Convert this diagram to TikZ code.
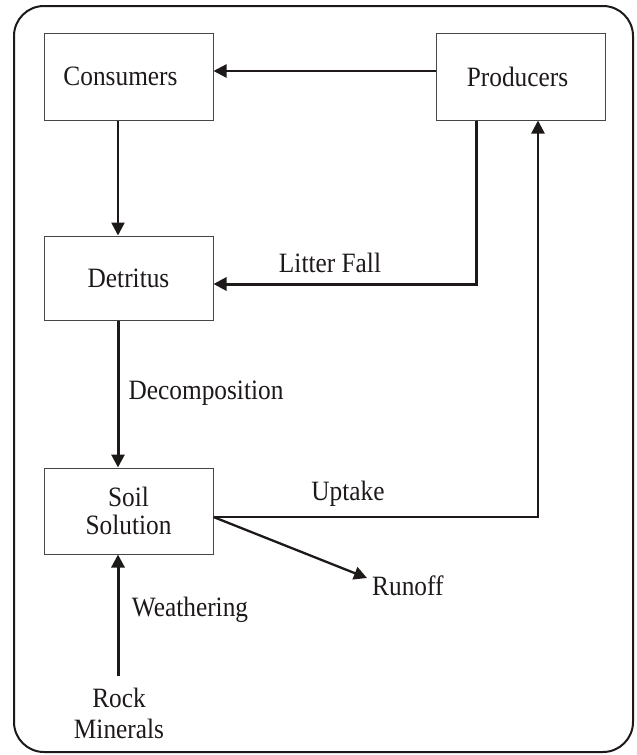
\documentclass[tikz,border=0pt]{standalone}
\usepackage{fontspec}
\setmainfont[FakeStretch=0.905]{Liberation Serif}
\usepackage{xcolor}
\usetikzlibrary{arrows.meta, positioning, calc}
\definecolor{BoxGray}{RGB}{70,70,70}
\definecolor{LineDark}{RGB}{30,25,25}
\tikzset{
  >=latex,
  % Riquadri dei compartimenti
  pool/.style={draw=BoxGray,line width=1pt,minimum width=169pt,inner sep=1pt,
    font=\fontsize{28}{28}\selectfont,align=center,text=LineDark},
  % Testi dei flussi
  flow txt/.style={font=\fontsize{28}{28}\selectfont,align=center,text=LineDark,inner sep=1pt},
  % Connessioni
  connect arrow/.style={-{Triangle[length=13pt,width=13pt]},line width=2.3pt,LineDark},
  connect thick/.style={connect arrow,line width=3pt}
}
\begin{document}
\begin{tikzpicture}[x=1pt,y=-1pt]
    \useasboundingbox (0,0) rectangle (637,755);
    \draw[LineDark,line width=2pt,rounded corners=30pt] (14,6) rectangle (633,752);
    % compartimenti
    \node[pool,minimum height=87pt] (cons) at (128.5,76.5) {Consumers\hspace{16pt}};
    \node[pool,minimum height=87pt] (prod) at (521,76.5) {Producers\hspace{7pt}};
    \node[pool,minimum height=84pt] (detr) at (128.5,278) {Detritus};
    \node[pool,minimum height=86pt] (soil) at (128.5,511) {Soil\\Solution};
    \node[flow txt] (rock) at (119,713) {Rock\\[3pt]Minerals};
    \node[flow txt,anchor=north west] (runoff) at (371,575) {Runoff};
    % etichette
    \node[flow txt] (litter) at (330,263) {Litter Fall};
    \node[flow txt] (decomp) at (206,393) {Decomposition};
    \node[flow txt] (uptake) at (348,494) {Uptake};
    \node[flow txt] (weath) at (190,610) {Weathering};
    % flussi
    \draw[connect arrow] (prod.west |- 0,71) -- (cons.east |- 0,71);
    \draw[connect arrow] (cons.south -| 118,0) -- (detr.north -| 118,0);
    \draw[connect thick] (prod.south -| 476,0) |- ([yshift=-6pt]detr.east);
    \draw[connect thick] (detr.south -| 118,0) -- (soil.north -| 118,0);
    \draw[connect arrow] ([yshift=-6pt]soil.east) -| (prod.south -| 538,0);
    \draw[connect arrow] ([yshift=-6pt]soil.east) -- ([xshift=-4pt,yshift=-3pt]runoff.north west);
    \draw[connect thick] ([yshift=10pt]rock.north -| 118,0) -- (soil.south -| 118,0);
\end{tikzpicture}
\end{document}
